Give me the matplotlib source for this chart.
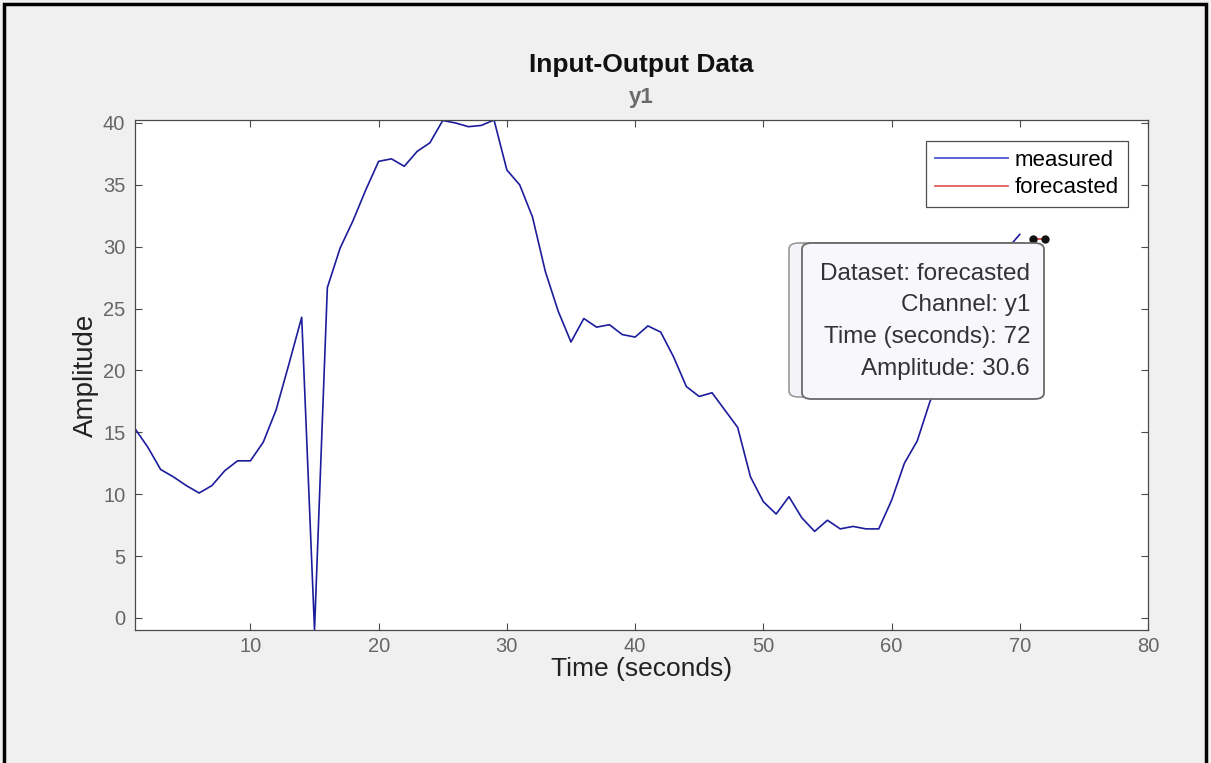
import numpy as np
import matplotlib.pyplot as plt
from matplotlib.patches import FancyBboxPatch, Rectangle

plt.rcParams['font.family'] = ['Liberation Sans', 'DejaVu Sans']

# measured output y1, one sample per second (t = 1..70)
t_meas = list(range(1, 71))
y_meas = [15.3, 13.8, 12.0, 11.4, 10.7, 10.1, 10.7, 11.9, 12.7, 12.7,
          14.2, 16.8, 20.5, 24.3, -0.97, 26.7, 29.9, 32.1, 34.6, 36.9,
          37.1, 36.5, 37.7, 38.4, 40.2, 40.0, 39.7, 39.8, 40.24, 36.2,
          35.0, 32.4, 28.0, 24.8, 22.3, 24.2, 23.5, 23.7, 22.9, 22.7,
          23.6, 23.1, 21.1, 18.7, 17.9, 18.2, 16.8, 15.4, 11.4, 9.4,
          8.4, 9.8, 8.1, 7.0, 7.9, 7.2, 7.4, 7.2, 7.2, 9.5,
          12.5, 14.3, 17.5, 19.8, 22.0, 24.5, 26.5, 28.3, 29.8, 31.0]

# forecasted samples
t_fc = [71, 72]
y_fc = [30.6, 30.6]

tip_lines = ['Dataset: forecasted', 'Channel: y1',
             'Time (seconds): 72', 'Amplitude: 30.6']

W, H = 1211, 763
fig = plt.figure(figsize=(W / 100, H / 100), dpi=100, facecolor='#f0f0f0')

def fx(px):
    return px / W

def fy(py):
    return 1 - py / H

ax = fig.add_axes([fx(135), fy(630), fx(1148) - fx(135), fy(120) - fy(630)])

ax.plot(t_meas, y_meas, color='#1c1c9c', lw=1.2, label='measured')
ax.plot(t_fc, y_fc, color='#d03030', lw=1.2, label='forecasted')
ax.plot(t_fc, y_fc, 'o', color='#111111', ms=5, zorder=6)

ax.set_xlim(1, 80)
ax.set_ylim(min(y_meas), max(y_meas))
ax.set_xticks(range(10, 81, 10))
ax.set_yticks(range(0, 41, 5))

grey = '#666666'
for s in ax.spines.values():
    s.set_color('#4a4a4a')
    s.set_linewidth(0.9)
ax.tick_params(direction='in', length=5, width=0.8, color='#4a4a4a',
               top=True, right=True, labelsize=14.5, labelcolor=grey, pad=7)
ax.tick_params(axis='x', pad=5)

ax.set_xlabel('Time (seconds)', fontsize=19, color='#222222')
ax.xaxis.set_label_coords(0.5, -0.053)
ax.set_ylabel('Amplitude', fontsize=20, color='#222222', labelpad=3)

fig.text(fx(641), fy(65), 'Input-Output Data', ha='center', va='center',
         fontsize=19, fontweight='bold', color='#111111')
fig.text(fx(641), fy(97), 'y1', ha='center', va='center',
         fontsize=16, fontweight='bold', color='#6a6a6a')

leg = ax.legend(loc='upper right', bbox_to_anchor=(0.980, 0.959),
                fontsize=16, frameon=True, fancybox=False, borderpad=0.4,
                handlelength=3.3, handletextpad=0.3, labelspacing=0.3,
                borderaxespad=0)
leg.get_frame().set_edgecolor('#222222')
leg.get_frame().set_linewidth(0.9)
for h in leg.get_lines():
    h.set_linewidth(1.3)
leg.get_lines()[0].set_color('#4a58d0')
leg.get_lines()[1].set_color('#e06060')

# data tip boxes (one behind the other)
back = FancyBboxPatch((fx(789), fy(397)), fx(1030) - fx(789), fy(243) - fy(397),
                      boxstyle='round,pad=0,rounding_size=0.008',
                      transform=fig.transFigure, facecolor='#f4f4f8',
                      edgecolor='#9a9a9a', lw=1.2, zorder=10)
front = FancyBboxPatch((fx(802), fy(399)), fx(1044) - fx(802), fy(243) - fy(399),
                       boxstyle='round,pad=0,rounding_size=0.008',
                       transform=fig.transFigure, facecolor='#f8f8fc',
                       edgecolor='#6a6a6a', lw=1.3, zorder=11)
fig.patches.extend([back, front])
for i, line in enumerate(tip_lines):
    fig.text(fx(1030), fy(274 + i * 31.5), line, ha='right', va='center',
             fontsize=17.5, color='#333333', zorder=12)

# black frame around the window
fig.patches.append(Rectangle((fx(4), -0.01), fx(1206) - fx(4), fy(4) + 0.01,
                             transform=fig.transFigure, fill=False,
                             edgecolor='black', lw=2.5, zorder=20))

fig.savefig('out.png', dpi=100, facecolor=fig.get_facecolor())
